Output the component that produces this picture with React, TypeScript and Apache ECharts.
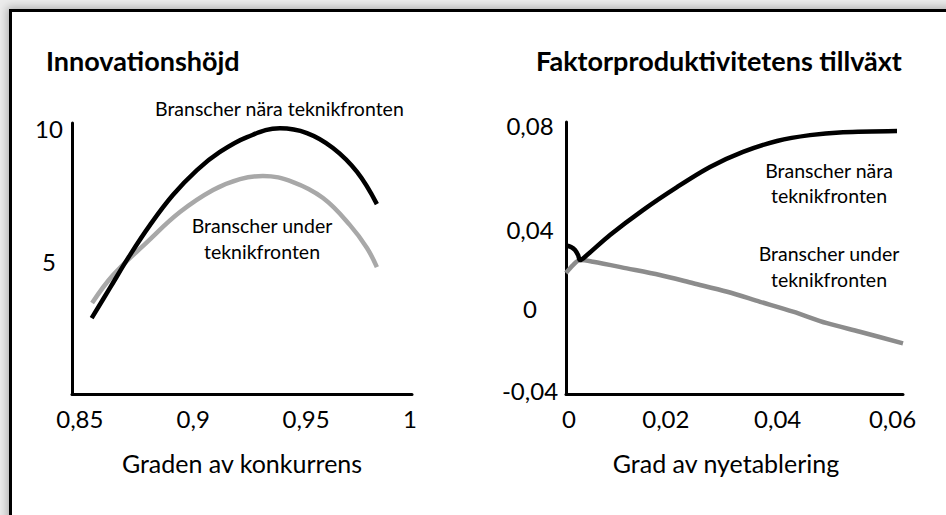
import React, { useEffect, useRef } from "react";
import * as echarts from "echarts";

// Left panel: Innovationshöjd vs Graden av konkurrens
const leftNearX = [0.8549, 0.8632, 0.8723, 0.8813, 0.8917, 0.9026, 0.913, 0.9253, 0.9402, 0.9524, 0.9642, 0.9751, 0.9841];
const leftNearY = [2.85, 3.99, 5.23, 6.35, 7.48, 8.42, 9.1, 9.66, 9.99, 9.81, 9.25, 8.35, 7.14];
const leftUnderX = [0.8551, 0.8646, 0.88, 0.8949, 0.9099, 0.9221, 0.9325, 0.9461, 0.9597, 0.9719, 0.9796, 0.9841];
const leftUnderY = [3.42, 4.47, 5.71, 6.84, 7.67, 8.08, 8.2, 7.97, 7.37, 6.35, 5.49, 4.77];

// Right panel: Faktorproduktivitetens tillväxt vs Grad av nyetablering
const rightNearX = [0, 0.00093, 0.00167, 0.00223, 0.0026, 0.0039, 0.00816, 0.01428, 0.02059, 0.02671, 0.03283, 0.03913, 0.04525, 0.05137, 0.06139];
const rightNearY = [0.028, 0.0273, 0.0259, 0.0236, 0.0213, 0.0236, 0.0328, 0.0442, 0.0547, 0.0639, 0.0708, 0.0758, 0.0785, 0.0798, 0.0804];
const rightUnderX = [0, 0.0013, 0.0026, 0.005, 0.0113, 0.0174, 0.0236, 0.0299, 0.036, 0.0421, 0.0484, 0.0545, 0.0625];
const rightUnderY = [0.0154, 0.019, 0.0213, 0.0205, 0.0175, 0.0145, 0.0107, 0.0068, 0.0022, -0.0023, -0.0076, -0.0115, -0.0168];

const leftXTicks = [0.85, 0.9, 0.95, 1];
const leftYTicks = [5, 10];
const rightXTicks = [0, 0.02, 0.04, 0.06];
const rightYTicks = [-0.04, 0, 0.04, 0.08];

const titles = ["Innovationshöjd", "Faktorproduktivitetens tillväxt"];
const xNames = ["Graden av konkurrens", "Grad av nyetablering"];
const seriesNames = ["Branscher nära teknikfronten", "Branscher under teknikfronten"];

const FONT = "Lato, 'Open Sans', sans-serif";
const fmtNum = (v: number) => String(v).replace(".", ",");
const zip = (xs: number[], ys: number[]) => xs.map((x, i) => [x, ys[i]]);

// label nudges (the original chart places its tick labels slightly irregularly)
// horizontal: [dx] ; vertical: [dy]
const hShift = (dxs: number[]) => {
  const rich: Record<string, any> = {};
  dxs.forEach((dx, i) => {
    rich["t" + i] = {
      color: "#000", fontFamily: FONT, fontSize: 24,
      padding: dx >= 0 ? [0, 0, 0, 2 * dx] : [0, -2 * dx, 0, 0],
    };
  });
  return rich;
};
const vShift = (dys: number[]) => {
  const rich: Record<string, any> = {};
  dys.forEach((dy, i) => {
    rich["t" + i] = {
      color: "#000", fontFamily: FONT, fontSize: 24,
      padding: dy >= 0 ? [2 * dy, 0, 0, 0] : [0, 0, -2 * dy, 0],
    };
  });
  return rich;
};
const richFmt = (ticks: number[]) => (v: number) => {
  let idx = 0;
  ticks.forEach((t, i) => { if (Math.abs(t - v) < Math.abs(ticks[idx] - v)) idx = i; });
  return `{t${idx}|${fmtNum(ticks[idx])}}`;
};

export default function App() {
  const ref = useRef<HTMLDivElement>(null);
  useEffect(() => {
    if (!ref.current) return;
    const chart = echarts.init(ref.current, undefined, { renderer: "svg" });
    const axisLine = { show: true, onZero: false, lineStyle: { color: "#000", width: 3 } };
    const labelStyle = { color: "#000", fontFamily: FONT, fontSize: 24 };
    const titleStyle = { fontFamily: FONT, fontSize: 27, fontWeight: "bold", color: "#000" };
    const annot = `19.5px ${FONT}`;
    chart.setOption({
      animation: false,
      backgroundColor: "transparent",
      title: [
        { text: titles[0], left: 41, top: 42, textStyle: titleStyle },
        { text: titles[1], left: 531, top: 42, textStyle: titleStyle },
      ],
      grid: [
        { left: 72, top: 123, width: 340, height: 271 },
        { left: 566, top: 122, width: 337, height: 272 },
      ],
      xAxis: [
        {
          type: "value", gridIndex: 0, min: 0.846, max: 1.0,
          axisLine, axisTick: { show: false }, splitLine: { show: false },
          axisLabel: { ...labelStyle, margin: 12, customValues: leftXTicks, formatter: richFmt(leftXTicks), rich: hShift([-1, 2, 4.5, -2]) },
          name: xNames[0], nameLocation: "middle", nameGap: 56,
          nameTextStyle: { fontFamily: FONT, fontSize: 25, color: "#000" },
        },
        {
          type: "value", gridIndex: 1, min: 0, max: 0.0625,
          axisLine, axisTick: { show: false }, splitLine: { show: false },
          axisLabel: { ...labelStyle, margin: 12, customValues: rightXTicks, formatter: richFmt(rightXTicks), rich: hShift([3, -8, -4, 3]) },
          name: xNames[1], nameLocation: "middle", nameGap: 56,
          nameTextStyle: { fontFamily: FONT, fontSize: 25, color: "#000", padding: [0, 17, 0, 0] },
        },
      ],
      yAxis: [
        {
          type: "value", gridIndex: 0, min: 0, max: 10.19,
          axisLine, axisTick: { show: false }, splitLine: { show: false },
          axisLabel: { ...labelStyle, margin: 23, align: "center", customValues: leftYTicks, formatter: fmtNum },
        },
        {
          type: "value", gridIndex: 1, min: -0.04, max: 0.0845,
          axisLine, axisTick: { show: false }, splitLine: { show: false },
          axisLabel: { ...labelStyle, margin: 36, align: "center", customValues: rightYTicks, formatter: richFmt(rightYTicks), rich: vShift([-4, 1.5, 10, -6.5]) },
        },
      ],
      series: [
        { name: seriesNames[0], type: "line", xAxisIndex: 0, yAxisIndex: 0, data: zip(leftNearX, leftNearY), smooth: 0.4, showSymbol: false, lineStyle: { color: "#000", width: 4.5 }, z: 3 },
        { name: seriesNames[1], type: "line", xAxisIndex: 0, yAxisIndex: 0, data: zip(leftUnderX, leftUnderY), smooth: 0.4, showSymbol: false, lineStyle: { color: "#a8a8a8", width: 4.5 }, z: 2 },
        { name: seriesNames[0], type: "line", xAxisIndex: 1, yAxisIndex: 1, data: zip(rightNearX, rightNearY), smooth: 0.3, showSymbol: false, lineStyle: { color: "#000", width: 4.5 }, z: 3 },
        { name: seriesNames[1], type: "line", xAxisIndex: 1, yAxisIndex: 1, data: zip(rightUnderX, rightUnderY), smooth: 0.3, showSymbol: false, lineStyle: { color: "#8c8c8c", width: 4.5 }, z: 2 },
      ],
      graphic: [
        { type: "text", x: 155, y: 108, style: { text: "Branscher nära teknikfronten", font: annot, fill: "#000", verticalAlign: "middle" } },
        { type: "text", x: 262, y: 238, style: { text: "Branscher under\nteknikfronten", font: annot, fill: "#000", align: "center", verticalAlign: "middle", lineHeight: 26 } },
        { type: "text", x: 829, y: 182.5, style: { text: "Branscher nära\nteknikfronten", font: annot, fill: "#000", align: "center", verticalAlign: "middle", lineHeight: 25 } },
        { type: "text", x: 829, y: 266, style: { text: "Branscher under\nteknikfronten", font: annot, fill: "#000", align: "center", verticalAlign: "middle", lineHeight: 26 } },
      ],
    });
    return () => chart.dispose();
  }, []);

  return (
    <div style={{ position: "fixed", left: 0, top: 0, width: 946, height: 515, overflow: "hidden", background: "#ebebeb" }}>
      <div style={{ position: "absolute", left: 9, top: 9, width: 1000, height: 600, border: "3px solid #000", boxShadow: "0 0 8px 2px rgba(0,0,0,0.25)", background: "#fff" }} />
      <div ref={ref} style={{ position: "absolute", left: 0, top: 0, width: 946, height: 515 }} />
    </div>
  );
}
